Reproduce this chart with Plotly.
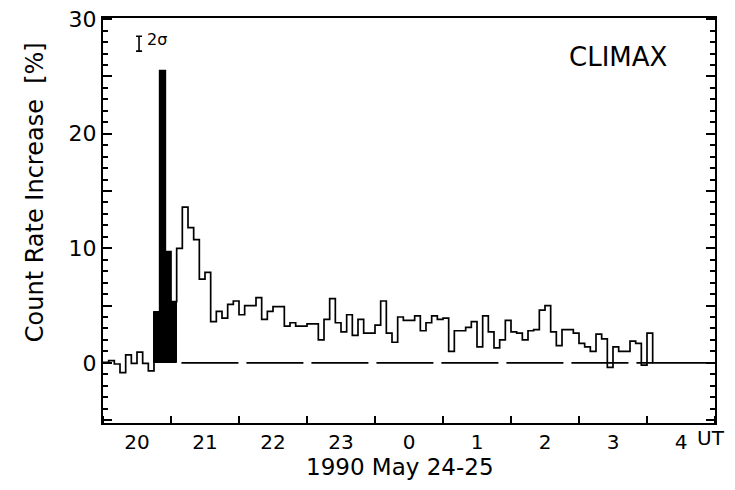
import plotly.graph_objects as go

# 5-minute bins starting 20:00 UT on 1990 May 24 (hours, 24+ = next day)
bin_minutes = 5
start_hour = 20
pre_event = [0.05, 0.2, -0.1, -0.85, 0.7, -0.05, 0.93, -0.05, -0.7]
impulsive = [4.4, 25.5, 9.7, 5.35]          # filled (black) bins
decay = [10.0, 13.6, 11.8, 10.75, 7.3, 7.9, 3.6, 4.5, 3.9]
plateau_a = [5.1, 5.4, 4.2, 5.0, 5.0, 5.7, 3.8, 4.5, 4.9, 4.9, 3.2, 3.5, 3.2, 3.2, 3.4,
             3.4, 2.0, 3.8, 5.6, 3.5, 2.7, 4.2, 2.4, 3.8, 2.6, 2.6, 3.3, 5.4, 2.6, 1.8,
             4.0, 3.7, 3.7, 4.1, 2.8, 3.5, 4.1, 3.8, 3.9, 1.0, 2.8, 2.8, 3.1]
plateau_b = [3.6, 1.4, 4.1, 2.7, 1.3, 2.0, 3.7, 2.7, 2.6, 2.0, 2.8, 2.9, 4.6, 5.0, 2.7,
             1.5, 2.9, 2.9, 2.6, 1.7, 1.4, 1.0, 2.5, 2.1, -0.4, 1.4, 1.0, 1.0, 1.9, 1.7,
             -0.2, 2.6]

tick_hours = list(range(20, 30))
label_positions = [h + 0.5 for h in range(20, 29)]
label_text = ["20", "21", "22", "23", "0", "1", "2", "3", "4"]
y_range = [-5.25, 30.1]
x_range = [20, 29]
sigma_pos = (20.53, 27.86)
sigma_half = 0.65

values = pre_event + impulsive + decay + plateau_a + plateau_b
bw = bin_minutes / 60.0
edges = [start_hour + i * bw for i in range(len(values) + 1)]
n_pre = len(pre_event)
n_imp = len(impulsive)

# step outline
sx = edges[:-1] + [edges[-1], edges[-1], x_range[1]]
sy = values + [values[-1], 0, 0]

fig = go.Figure()

# dashed zero line after the impulsive phase
fig.add_trace(go.Scatter(
    x=[edges[n_pre + n_imp] + 0.07, edges[-1]], y=[0, 0], mode="lines",
    line=dict(color="black", width=1.6, dash="57px,8px"), hoverinfo="skip", showlegend=False))

# filled impulsive bins
fig.add_trace(go.Bar(
    x=[(edges[n_pre + i] + edges[n_pre + i + 1]) / 2 for i in range(n_imp)],
    y=impulsive, width=bw, marker=dict(color="black", line=dict(color="black", width=1)),
    showlegend=False))

fig.add_trace(go.Scatter(
    x=sx, y=sy, mode="lines", line=dict(color="black", width=1.7, shape="hv"),
    showlegend=False))

# 2 sigma error indicator
fig.add_trace(go.Scatter(
    x=[sigma_pos[0]], y=[sigma_pos[1]], mode="markers", marker=dict(size=0.1, color="black"),
    error_y=dict(type="data", array=[sigma_half], color="black", thickness=1.6, width=3),
    showlegend=False))

font = "DejaVu Sans"
# page body has an 8px default margin: keep figure + margins inside the 735x490 window
fig.update_layout(
    width=719, height=474,
    margin=dict(l=95, r=12, t=10, b=59, autoexpand=False),
    paper_bgcolor="white", plot_bgcolor="white",
    font=dict(family=font, color="black", size=20),
    bargap=0,
    xaxis=dict(
        range=x_range, showgrid=False, zeroline=False, automargin=False,
        showline=True, linecolor="black", linewidth=2, mirror=True,
        tickmode="array", tickvals=label_positions, ticktext=label_text, ticks="",
        tickfont=dict(size=20), ticklabeloverflow="allow",
        minor=dict(tickmode="array", tickvals=tick_hours, ticks="inside", ticklen=7,
                   tickwidth=1.5, tickcolor="black", showgrid=False),
    ),
    yaxis=dict(
        range=y_range, showgrid=False, zeroline=False, automargin=False,
        showline=True, linecolor="black", linewidth=2, mirror="ticks",
        tickmode="array", tickvals=[-5, 0, 5, 10, 15, 20, 25, 30],
        ticktext=["", "0", "", "10", "", "20", "", "30"],
        ticks="inside", ticklen=9, tickwidth=1.5, tickcolor="black",
        tickfont=dict(size=22), ticklabeloverflow="allow",
        minor=dict(dtick=1, tick0=0, ticks="inside", ticklen=5, tickwidth=1.5,
                   tickcolor="black", showgrid=False),
    ),
    annotations=[
        dict(text="Count Rate Increase  [%]", xref="paper", yref="paper", x=-0.111, y=0.57,
             textangle=-90, showarrow=False, font=dict(size=24), xanchor="center", yanchor="middle"),
        dict(text="1990 May 24-25", xref="paper", yref="paper", x=0.485, y=-0.1086,
             showarrow=False, font=dict(size=23), xanchor="center", yanchor="middle"),
        dict(text="UT", xref="paper", yref="paper", x=(727 - 103) / 612, y=-0.037,
             showarrow=False, font=dict(size=20), xanchor="right", yanchor="middle"),
        dict(text="CLIMAX", xref="paper", yref="paper", x=0.8415, y=0.904,
             showarrow=False, font=dict(size=26), xanchor="center", yanchor="middle"),
        dict(text="2σ", xref="x", yref="y", x=20.8, y=28.2,
             showarrow=False, font=dict(size=16), xanchor="center", yanchor="middle"),
    ],
)

fig.write_html("out.html")
